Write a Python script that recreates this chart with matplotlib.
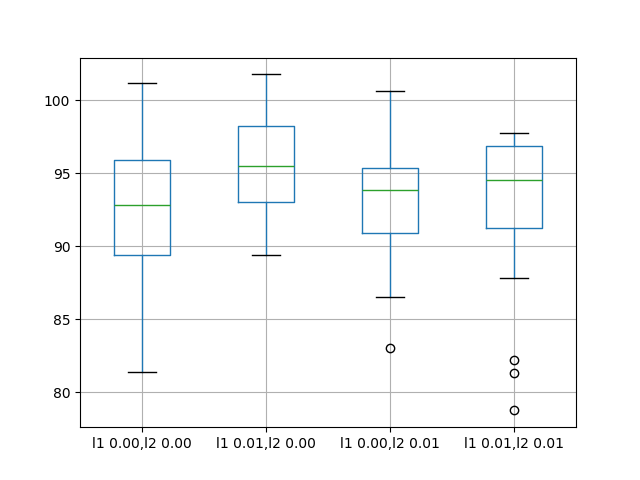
from matplotlib import pyplot as plt

labels = ['l1 0.00,l2 0.00', 'l1 0.01,l2 0.00', 'l1 0.00,l2 0.01', 'l1 0.01,l2 0.01']
whislo = [81.37, 89.38, 86.51, 87.81]
q1 = [89.38, 93.01, 90.89, 91.23]
med = [92.81, 95.48, 93.84, 94.52]
q3 = [95.89, 98.22, 95.34, 96.85]
whishi = [101.16, 101.78, 100.62, 97.74]
fliers = [[], [], [83.01], [82.19, 81.30, 78.77]]


def main():
    stats = []
    for i in range(len(labels)):
        stats.append({'label': labels[i], 'whislo': whislo[i], 'q1': q1[i], 'med': med[i],
                      'q3': q3[i], 'whishi': whishi[i], 'fliers': fliers[i]})

    fig, ax = plt.subplots(figsize=(6.4, 4.8), dpi=100)
    ax.bxp(stats,
           boxprops={'color': '#1f77b4'},
           whiskerprops={'color': '#1f77b4'},
           capprops={'color': 'black'},
           medianprops={'color': '#2ca02c'},
           flierprops={'marker': 'o', 'markeredgecolor': 'black', 'markerfacecolor': 'none'})
    ax.grid(True)
    ax.set_axisbelow(True)
    plt.savefig('out.png')


if __name__ == '__main__':
    main()
